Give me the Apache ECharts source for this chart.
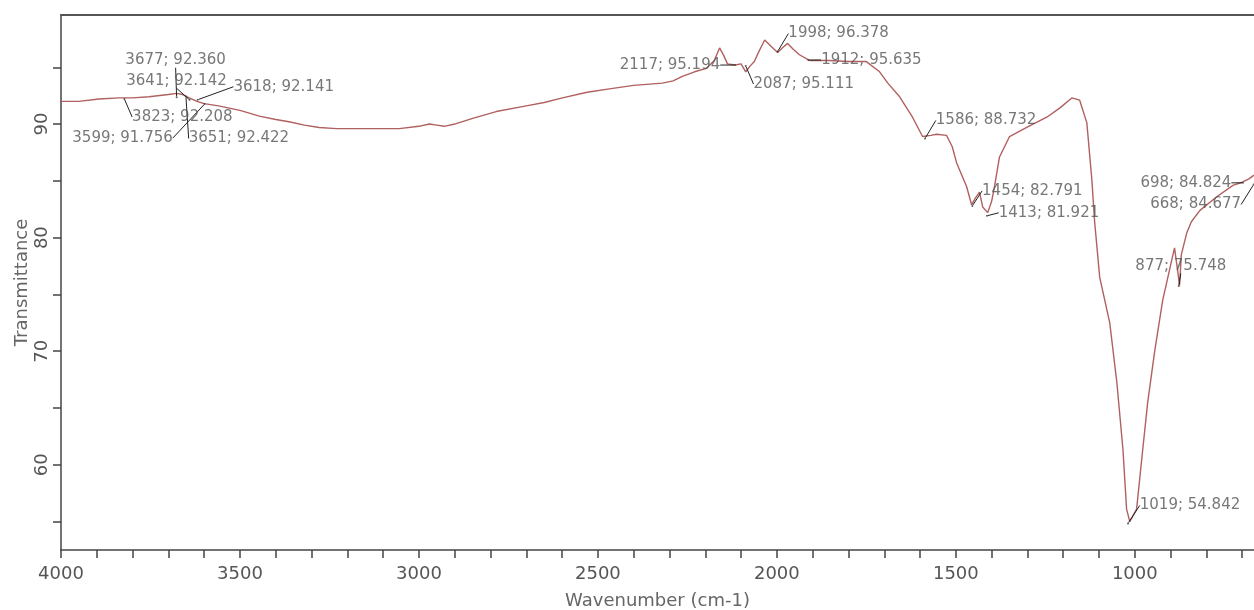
<!DOCTYPE html>
<html>
<head>
<meta charset="utf-8">
<script src="https://cdn.jsdelivr.net/npm/echarts@6/dist/echarts.min.js"></script>
<style>html,body{margin:0;padding:0;background:#fff;}#c{width:1254px;height:610px;}</style>
</head>
<body>
<div id="c"></div>
<script>
// Spectrum (wavenumber cm-1, transmittance %)
const wavenumbers = [4000,3950,3894,3838,3800,3754,3700,3677,3660,3642,3620,3600,3560,3530,3500,3446,3400,3363,3320,3279,3230,3195,3150,3111,3055,3000,2971,2950,2929,2900,2850,2784,2700,2650,2599,2530,2468,2400,2320,2290,2264,2230,2197,2175,2160,2148,2138,2117,2100,2087,2075,2063,2050,2034,2015,1998,1985,1970,1955,1937,1909,1880,1853,1800,1750,1713,1690,1657,1621,1593,1570,1554,1526,1510,1498,1470,1456,1445,1434,1425,1411,1400,1392,1378,1350,1302,1246,1210,1176,1154,1134,1120,1112,1098,1070,1050,1033,1023,1014,995,978,964,944,922,897,889,880,875,870,855,842,818,771,726,698,680,667];
const transmittance = [92.0,92.0,92.2,92.3,92.3,92.4,92.6,92.7,92.6,92.3,92.0,91.8,91.6,91.4,91.2,90.7,90.4,90.2,89.9,89.7,89.6,89.6,89.6,89.6,89.6,89.8,90.0,89.9,89.8,90.0,90.5,91.1,91.6,91.9,92.3,92.8,93.1,93.4,93.6,93.8,94.2,94.6,94.9,95.6,96.7,96.0,95.3,95.2,95.3,94.6,95.1,95.5,96.4,97.4,96.8,96.3,96.7,97.1,96.6,96.1,95.6,95.6,95.6,95.5,95.5,94.6,93.6,92.4,90.6,88.9,89.0,89.1,89.0,88.0,86.6,84.5,82.9,83.5,84.0,82.7,82.2,83.2,84.5,87.1,88.9,89.7,90.6,91.4,92.3,92.1,90.1,85.1,81.3,76.5,72.5,67.2,61.3,56.1,55.0,56.1,61.3,65.5,70.1,74.5,78.0,79.1,77.0,75.8,78.5,80.4,81.4,82.4,83.6,84.6,84.9,85.2,85.5];

// Peak annotations
const peakWn = [3677,3641,3618,3823,3599,3651,2117,2087,1998,1912,1586,1454,1413,1019,877,698,668];
const peakT  = [92.360,92.142,92.141,92.208,91.756,92.422,95.194,95.111,96.378,95.635,88.732,82.791,81.921,54.842,75.748,84.824,84.677];

// Axis ticks
const xTicks = [];
for (let v = 700; v <= 4000; v += 100) xTicks.push(v);
const xTickLabels = [1000,1500,2000,2500,3000,3500,4000];
const yTicks = [55,60,65,70,75,80,85,90,95];
const yTickLabels = [60,70,80,90];

// label offsets (layout only)
const labelOffsets = [[-1,-37],[-13,-19],[86,-13],[58,18],[-82,34],[53,42],[-65,0],[58,18],[61,-18],[63,0],[61,-18],[60,-15],[62,-3],[62,-18],[2,-20],[-57,0],[-58,20]];

const spectrum = wavenumbers.map((w,i)=>[w, transmittance[i]]);
const peaks = peakWn.map((w,i)=>[w, peakT[i]]);

const FONT = 'DejaVu Sans';
const chart = echarts.init(document.getElementById('c'), null, {renderer:'canvas'});
chart.setOption({
  animation: false,
  backgroundColor: '#fff',
  grid: {left: 61, right: 0, top: 15, bottom: 60, containLabel: false, outerBoundsMode: 'none'},
  xAxis: [{
    type: 'value', inverse: true, min: 667, max: 4000,
    name: 'Wavenumber (cm-1)', nameLocation: 'middle', nameGap: 42,
    nameTextStyle: {fontFamily: FONT, fontSize: 18, color: '#666'},
    axisLine: {show: true, lineStyle: {color: '#444', width: 1.5}},
    axisTick: {show: true, inside: false, length: 8, customValues: xTicks, lineStyle: {color: '#444', width: 1.5}},
    axisLabel: {customValues: xTickLabels, margin: 15, fontFamily: FONT, fontSize: 18, color: '#555', formatter: v => String(v)},
    splitLine: {show: false}
  },{
    type: 'value', position: 'top', inverse: true, min: 667, max: 4000,
    axisLine: {show: true, lineStyle: {color: '#555', width: 2}},
    axisTick: {show: false}, axisLabel: {show: false}, splitLine: {show: false}
  }],
  yAxis: {
    type: 'value', min: 52.5, max: 99.6,
    name: 'Transmittance', nameLocation: 'middle', nameGap: 30, nameMoveOverlap: false,
    nameTextStyle: {fontFamily: FONT, fontSize: 18, color: '#666'},
    axisLine: {show: true, lineStyle: {color: '#444', width: 1.5}},
    axisTick: {show: true, inside: false, length: 8, customValues: yTicks, lineStyle: {color: '#444', width: 1.5}},
    axisLabel: {customValues: yTickLabels, rotate: 90, margin: 10, fontFamily: FONT, fontSize: 18, color: '#555', formatter: v => String(v)},
    splitLine: {show: false}
  },
  series: [{
    type: 'line', data: spectrum, showSymbol: false, clip: true,
    lineStyle: {color: '#b0605f', width: 1.4}, z: 2
  },{
    type: 'scatter', data: peaks, symbolSize: 2,
    itemStyle: {color: '#333'},
    label: {
      show: true, position: 'inside', fontFamily: FONT, fontSize: 15, color: '#555',
      formatter: p => p.value[0] + '; ' + p.value[1].toFixed(3)
    },
    labelLayout: p => ({dx: labelOffsets[p.dataIndex][0], dy: labelOffsets[p.dataIndex][1]}),
    labelLine: {show: true, lineStyle: {color: '#222', width: 1}},
    z: 3
  }]
});
</script>
</body>
</html>
